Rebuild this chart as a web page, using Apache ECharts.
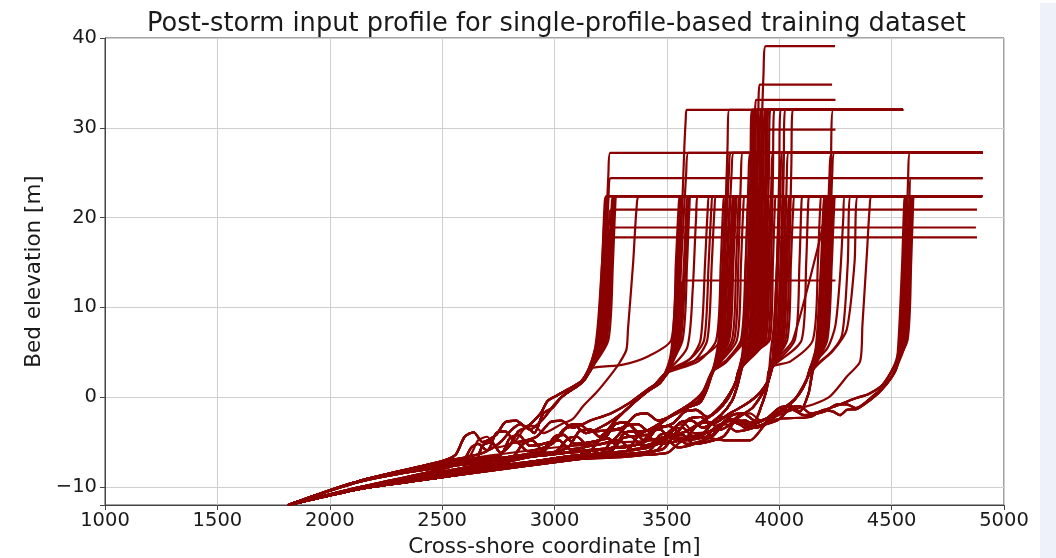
<!DOCTYPE html>
<html>
<head>
<meta charset="utf-8">
<script src="https://cdn.jsdelivr.net/npm/echarts@6/dist/echarts.min.js"></script>
<style>
  html, body { margin: 0; padding: 0; background: #fff; }
  #chart { width: 1056px; height: 558px; }
</style>
</head>
<body>
<div id="chart"></div>
<script>
// offshore parts (bars) of the profiles
var seaA1 = [[1815,-12],[2135,-10.2],[2500,-8.6],[2640,-7.6],[2680,-5.4],[2720,-5.0],[2760,-6.2],[2800,-5.4],[2840,-3.8],[2880,-3.4],[2910,-4.0],[2950,-1.8],[2990,-1.2],[3030,0.0],[3080,0.9],[3130,1.8],[3160,3.2]];
var seaA2 = [[1815,-12],[2135,-9.3],[2500,-7.1],[2560,-6.4],[2600,-4.4],[2640,-3.9],[2680,-5.0],[2740,-4.2],[2780,-2.8],[2830,-2.6],[2870,-3.3],[2935,-1.9],[2970,-0.4],[3011,0.2],[3069,1.0],[3120,1.8],[3150,3.0]];
var seaA3 = [[1815,-12],[2135,-10.0],[2500,-8.0],[2590,-7.2],[2630,-5.6],[2660,-5.2],[2700,-5.9],[2760,-5.0],[2810,-3.6],[2850,-3.0],[2890,-3.6],[2950,-2.4],[3000,-0.8],[3050,0.4],[3110,1.4],[3170,3.4]];
var seaZ  = [[1815,-12],[2135,-9.3],[2500,-7.4],[2620,-6.6],[2660,-4.8],[2700,-4.4],[2740,-5.6],[2820,-5.0],[2870,-3.4],[2910,-3.2],[2950,-4.0],[3030,-3.0],[3082,-2.4],[3127,-1.0],[3189,0.6],[3260,2.8],[3291,3.9],[3320,5.3]];
var seaB  = [[1815,-12],[2135,-10.2],[2500,-8.7],[2800,-7.0],[2860,-5.2],[2900,-4.8],[2960,-6.2],[3060,-5.6],[3110,-3.8],[3160,-3.6],[3200,-4.4],[3278,-2.4],[3336,-1.0],[3411,0.6],[3470,1.6],[3500,2.8]];
var seaB2 = [[1815,-12],[2135,-9.3],[2500,-7.2],[2700,-6.0],[2740,-4.0],[2780,-3.8],[2830,-5.0],[2920,-4.4],[2980,-2.8],[3030,-2.6],[3080,-3.4],[3160,-2.6],[3250,-1.8],[3336,-0.6],[3411,0.8],[3480,2.0],[3510,3.0]];
var seaB3 = [[1815,-12],[2135,-10.1],[2500,-8.3],[2740,-7.0],[2790,-5.4],[2830,-5.0],[2880,-6.0],[2990,-5.2],[3040,-3.6],[3090,-3.2],[3140,-4.0],[3230,-3.0],[3300,-1.8],[3370,-0.2],[3440,1.2],[3490,2.6]];
var seaC  = [[1815,-12],[2135,-10.2],[2500,-8.8],[2900,-6.6],[3000,-6.2],[3060,-4.6],[3100,-4.4],[3150,-5.4],[3260,-4.8],[3320,-3.2],[3370,-3.0],[3420,-3.8],[3500,-2.4],[3572,-1.3],[3647,-0.6],[3680,1.0],[3705,3.0]];
var seaC2 = [[1815,-12],[2135,-9.3],[2500,-7.4],[2760,-6.4],[2800,-4.6],[2840,-4.2],[2890,-5.4],[3000,-4.8],[3060,-3.2],[3110,-3.0],[3160,-3.8],[3300,-3.4],[3360,-2.0],[3410,-1.8],[3460,-2.6],[3560,-1.6],[3640,-0.4],[3680,1.4],[3712,3.2]];
var seaC3 = [[1815,-12],[2135,-10.2],[2500,-8.6],[2850,-6.8],[2930,-6.4],[2980,-5.0],[3020,-4.8],[3070,-5.8],[3180,-5.2],[3240,-3.8],[3290,-3.6],[3340,-4.4],[3450,-3.2],[3520,-2.0],[3600,-0.8],[3660,0.6],[3700,2.8]];
var seaD  = [[1815,-12],[2135,-10.2],[2500,-8.9],[3000,-6.8],[3150,-6.2],[3200,-4.8],[3240,-4.6],[3290,-5.6],[3400,-5.0],[3460,-3.4],[3510,-3.2],[3560,-4.0],[3650,-2.8],[3720,-1.6],[3770,-0.2],[3805,1.6],[3830,3.2]];
var seaD2 = [[1815,-12],[2135,-9.3],[2500,-7.6],[2950,-6.0],[3000,-4.4],[3040,-4.2],[3090,-5.2],[3220,-4.6],[3270,-3.0],[3320,-2.8],[3370,-3.8],[3520,-3.0],[3580,-1.6],[3630,-1.4],[3680,-2.2],[3740,-1.0],[3780,0.4],[3805,1.6],[3820,3.0]];
var seaD3 = [[1815,-12],[2135,-10.2],[2500,-8.7],[3050,-6.6],[3250,-6.0],[3300,-4.6],[3340,-4.4],[3390,-5.4],[3500,-4.4],[3560,-2.8],[3610,-2.6],[3660,-3.4],[3740,-2.0],[3790,-0.4],[3815,1.4],[3835,3.4]];
var seaE  = [[1815,-12],[2135,-10.2],[2500,-8.9],[3100,-6.6],[3320,-6.0],[3370,-4.4],[3410,-4.2],[3460,-5.2],[3580,-4.6],[3640,-3.0],[3690,-2.8],[3740,-3.6],[3820,-2.2],[3880,-1.2],[3920,0.2],[3950,1.6],[3965,3.2]];
var seaE2 = [[1815,-12],[2135,-10.2],[2500,-8.9],[3000,-7.0],[3200,-6.6],[3250,-5.0],[3290,-4.8],[3340,-5.8],[3460,-5.2],[3520,-3.6],[3570,-3.4],[3620,-4.4],[3720,-3.4],[3790,-2.0],[3840,-1.8],[3890,-2.6],[3920,-1.0],[3945,1.0],[3955,3.0]];
var seaE3 = [[1815,-12],[2135,-9.4],[2500,-7.8],[3050,-6.2],[3260,-5.6],[3310,-4.0],[3350,-3.8],[3400,-4.8],[3540,-4.0],[3600,-2.4],[3650,-2.2],[3700,-3.0],[3780,-1.8],[3850,-0.8],[3910,0.4],[3950,1.8],[3970,3.4]];
var seaF  = [[1815,-12],[2135,-10.2],[2500,-8.9],[3200,-6.6],[3480,-5.8],[3530,-4.4],[3570,-4.2],[3620,-5.2],[3750,-4.4],[3800,-2.8],[3850,-2.6],[3900,-3.4],[3980,-2.0],[4040,-1.0],[4090,0.4],[4120,1.8],[4140,3.4]];
var seaF2 = [[1815,-12],[2135,-9.3],[2500,-7.6],[3100,-6.0],[3380,-5.2],[3430,-3.8],[3470,-3.6],[3520,-4.6],[3660,-4.0],[3720,-2.4],[3770,-2.2],[3820,-3.0],[3940,-2.4],[4000,-1.2],[4050,-1.0],[4090,-1.6],[4130,0.4],[4150,3.0]];
var seaF3 = [[1815,-12],[2135,-10.0],[2500,-8.4],[3150,-6.4],[3420,-5.6],[3470,-4.2],[3510,-4.0],[3560,-4.8],[3700,-4.2],[3760,-2.6],[3810,-2.4],[3860,-3.2],[3960,-2.2],[4020,-1.2],[4070,-0.2],[4110,1.4],[4145,3.2]];
var seaG  = [[1815,-12],[2135,-9.3],[2500,-7.3],[3000,-5.6],[3300,-5.0],[3500,-4.6],[3540,-3.2],[3580,-3.0],[3620,-4.0],[3760,-3.4],[3820,-2.0],[3870,-1.8],[3920,-2.6],[4060,-1.4],[4150,-0.8],[4226,0.1],[4301,2.3],[4360,4.0]];
var seaH  = [[1815,-12],[2135,-10.2],[2500,-8.9],[3000,-7.0],[3300,-6.5],[3500,-6.2],[3560,-5.0],[3647,-4.3],[3700,-4.6],[3767,-4.8],[3870,-4.8],[3940,-3.0],[4003,-2.4],[4137,-2.2],[4200,-1.4],[4240,-1.6],[4270,-2.0],[4301,-1.4],[4346,-1.3],[4400,-0.4],[4448,0.6],[4500,2.2],[4524,3.4]];
var seaH2 = [[1815,-12],[2135,-10.2],[2500,-8.9],[3100,-6.8],[3450,-6.0],[3500,-4.6],[3540,-4.4],[3590,-5.2],[3700,-4.4],[3760,-2.8],[3800,-2.6],[3850,-3.4],[3990,-2.6],[4050,-1.2],[4090,-1.0],[4140,-1.8],[4250,-1.0],[4330,-0.2],[4400,0.4],[4460,1.4],[4510,3.4]];
var seaH3 = [[1815,-12],[2135,-10.2],[2500,-8.9],[3050,-7.0],[3400,-6.4],[3460,-5.0],[3500,-4.8],[3550,-5.6],[3660,-4.8],[3720,-3.2],[3760,-3.0],[3810,-3.8],[3950,-2.8],[4010,-1.6],[4060,-1.4],[4110,-2.0],[4200,-1.6],[4260,-0.8],[4300,-0.8],[4340,-1.2],[4420,0.2],[4480,1.6],[4518,3.2]];

// dune face + crest of each profile: [offshore part, face/crest points]
var bundle1 = [
  [seaA2, [[3190,6.4],[3212,15],[3222,21],[3230,22.4],[4250,22.4]]],
  [seaA1, [[3194,6.4],[3216,15],[3226,21],[3234,22.4],[4550,22.4]]],
  [seaA3, [[3198,6.4],[3220,15],[3230,21],[3238,22.4],[4900,22.4]]],
  [seaA2, [[3202,6.4],[3224,16],[3240,25],[3248,27.2],[4905,27.2]]],
  [seaA1, [[3206,6.4],[3228,16],[3240,22],[3250,24.4],[4905,24.4]]],
  [seaA3, [[3210,6.4],[3232,15],[3244,20],[3252,20.9],[4880,20.9]]],
  [seaA2, [[3214,6.4],[3236,15],[3246,18.2],[3254,18.9],[4875,18.9]]],
  [seaA1, [[3218,6.4],[3240,15],[3250,17.2],[3258,17.8],[4880,17.8]]],
  [seaA3, [[3222,6.4],[3244,15],[3254,21],[3262,22.4],[4250,22.4]]],
  [seaA2, [[3226,6.4],[3248,15],[3258,21],[3266,22.4],[4550,22.4]]],
  [seaA1, [[3232,6.4],[3254,15],[3264,21],[3272,22.4],[4250,22.4]]],
  [seaA3, [[3240,6.4],[3260,15],[3270,21],[3278,22.4],[4900,22.4]]],
  [seaA1, [[3186,5.6],[3200,9],[3218,16],[3228,21],[3236,22.4],[4550,22.4]]],
  [seaA2, [[3180,5.4],[3196,9],[3214,16],[3226,21],[3244,22.4],[4250,22.4]]],
  [seaZ,  [[3327,7.6],[3350,15],[3365,21],[3378,22.4],[4250,22.4]]]
];
var bundle2 = [
  [seaB,  [[3525,6.4],[3545,15],[3556,21],[3565,22.4],[4250,22.4]]],
  [seaB2, [[3530,6.4],[3550,15],[3561,21],[3570,22.4],[4550,22.4]]],
  [seaB3, [[3535,6.4],[3555,15],[3566,21],[3575,22.4],[4900,22.4]]],
  [seaB,  [[3540,6.4],[3560,16],[3578,28],[3584,31],[3588,32],[4551,32]]],
  [seaB2, [[3545,6.4],[3566,16],[3586,25],[3596,27.2],[4905,27.2]]],
  [seaB3, [[3550,6.4],[3562,10],[3572,13],[4250,13]]],
  [seaB,  [[3555,6.4],[3576,15],[3587,21],[3596,22.4],[4250,22.4]]],
  [seaB2, [[3562,6.4],[3583,15],[3594,21],[3603,22.4],[4550,22.4]]],
  [seaB3, [[3570,6.4],[3590,15],[3600,21],[3608,22.4],[4900,22.4]]],
  [seaB,  [[3590,5.5],[3615,12],[3630,20],[3640,22.4],[4900,22.4]]],
  [seaB3, [[3600,4.2],[3650,6.4],[3670,15],[3682,21],[3690,22.4],[4550,22.4]]],
  [seaB2, [[3610,4.4],[3666,6.4],[3686,15],[3698,21],[3706,22.4],[4250,22.4]]],
  [seaB,  [[3620,4.0],[3680,6.4],[3700,15],[3712,21],[3720,22.4],[4900,22.4]]],
  [seaA1, [[3300,3.6],[3420,4.6],[3520,6.4],[3540,15],[3552,21],[3560,22.4],[4550,22.4]]]
];
var bundle3 = [
  [seaC,  [[3730,6.4],[3748,15],[3758,21],[3766,22.4],[4550,22.4]]],
  [seaC2, [[3736,6.4],[3755,16],[3770,28],[3778,32],[4551,32]]],
  [seaC3, [[3742,6.4],[3760,16],[3776,25],[3786,27.2],[4905,27.2]]],
  [seaC,  [[3748,6.4],[3766,15],[3778,21],[3786,22.4],[4250,22.4]]],
  [seaC2, [[3754,6.4],[3772,16],[3788,25],[3798,27.2],[4905,27.2]]],
  [seaC3, [[3760,6.4],[3778,15],[3790,21],[3798,22.4],[4900,22.4]]],
  [seaC,  [[3766,6.4],[3784,15],[3796,21],[3804,22.4],[4550,22.4]]],
  [seaC2, [[3772,6.4],[3790,15],[3802,21],[3810,22.4],[4250,22.4]]],
  [seaC3, [[3778,6.4],[3796,15],[3808,21],[3816,22.4],[4900,22.4]]],
  [seaC,  [[3790,6.4],[3808,15],[3818,21],[3826,22.4],[4550,22.4]]],
  [seaC2, [[3800,6.4],[3818,15],[3830,25],[3838,27.2],[4905,27.2]]],
  [seaC3, [[3812,6.4],[3830,15],[3840,21],[3848,22.4],[4250,22.4]]],
  [seaB3, [[3640,4.0],[3720,6.4],[3740,15],[3750,21],[3758,22.4],[4900,22.4]]],
  [seaB,  [[3650,4.4],[3738,6.4],[3756,15],[3768,25],[3776,27.2],[4905,27.2]]],
  [seaC,  [[3760,4.0],[3830,6.4],[3850,15],[3860,21],[3868,22.4],[4900,22.4]]],
  [seaC2, [[3770,4.2],[3845,6.4],[3862,15],[3874,25],[3880,32],[4250,32]]],
  [seaC3, [[3760,3.8],[3836,6.4],[3852,15],[3864,25],[3872,27.2],[4905,27.2]]]
];
var bundle4 = [
  [seaD,  [[3840,6.4],[3862,15],[3872,25],[3878,32],[4250,32]]],
  [seaD2, [[3848,6.4],[3868,15],[3878,21],[3886,22.4],[4550,22.4]]],
  [seaD3, [[3856,6.4],[3874,15],[3884,25],[3890,32],[4551,32]]],
  [seaD,  [[3864,6.4],[3880,15],[3890,26],[3896,33.1],[4250,33.1]]],
  [seaD2, [[3872,6.4],[3888,15],[3898,25],[3904,27.2],[4905,27.2]]],
  [seaD3, [[3880,6.4],[3896,15],[3906,28],[3912,34.8],[4235,34.8]]],
  [seaD,  [[3886,6.4],[3902,15],[3912,25],[3918,32],[4551,32]]],
  [seaD2, [[3892,6.4],[3908,15],[3920,28],[3930,36],[3940,39.1],[4248,39.1]]],
  [seaD3, [[3898,6.4],[3914,15],[3924,25],[3930,29.8],[4250,29.8]]],
  [seaD,  [[3904,6.4],[3920,15],[3930,25],[3936,32],[4250,32]]],
  [seaD2, [[3910,6.4],[3926,15],[3936,21],[3944,22.4],[4900,22.4]]],
  [seaD3, [[3916,6.4],[3932,15],[3942,25],[3948,32],[4551,32]]],
  [seaD,  [[3922,6.4],[3938,15],[3948,21],[3956,22.4],[4550,22.4]]],
  [seaD2, [[3928,6.4],[3944,15],[3954,25],[3960,32],[4250,32]]],
  [seaD3, [[3934,6.4],[3950,15],[3960,21],[3968,22.4],[4250,22.4]]],
  [seaD,  [[3940,6.4],[3956,15],[3966,25],[3972,27.2],[4905,27.2]]],
  [seaD2, [[3852,6.4],[3870,15],[3880,25],[3885,32],[4250,32]]],
  [seaD3, [[3868,6.4],[3884,15],[3894,25],[3900,32],[4551,32]]],
  [seaD,  [[3876,6.4],[3892,15],[3902,25],[3908,32],[4250,32]]],
  [seaD2, [[3895,6.4],[3911,15],[3921,25],[3926,32],[4551,32]]],
  [seaD3, [[3912,6.4],[3928,15],[3938,25],[3942,32],[4250,32]]],
  [seaD,  [[3920,6.4],[3936,15],[3946,25],[3952,32],[4551,32]]],
  [seaD,  [[3870,4.8],[3950,6.4],[3964,15],[3972,25],[3978,32],[4551,32]]],
  [seaD2, [[3860,4.6],[3958,6.4],[3972,15],[3980,21],[3986,22.4],[4250,22.4]]]
];
var bundle5 = [
  [seaE,  [[3990,6.4],[4006,15],[4016,24],[4024,27.2],[4905,27.2]]],
  [seaE2, [[3996,6.4],[4012,15],[4020,26],[4026,32],[4551,32]]],
  [seaE3, [[4002,6.4],[4018,15],[4028,21],[4036,22.4],[4250,22.4]]],
  [seaE,  [[4008,6.4],[4024,15],[4034,25],[4042,27.2],[4905,27.2]]],
  [seaE2, [[4014,6.4],[4030,15],[4040,21],[4048,22.4],[4550,22.4]]],
  [seaE3, [[4020,6.4],[4036,15],[4046,21],[4054,22.4],[4900,22.4]]],
  [seaE,  [[4028,6.4],[4044,15],[4054,26],[4060,32],[4551,32]]],
  [seaE2, [[4036,6.4],[4052,15],[4062,21],[4070,22.4],[4900,22.4]]],
  [seaE3, [[4000,4.5],[4061,6.4],[4181,17.6],[4200,20],[4215,22.4],[4550,22.4]]],
  [seaE,  [[4070,6.4],[4090,15],[4098,21],[4104,22.4],[4550,22.4]]],
  [seaE2, [[4100,6.4],[4120,15],[4128,21],[4134,22.4],[4900,22.4]]],
  [seaE3, [[3985,5.2],[3996,9],[4010,16],[4020,21],[4030,22.4],[4250,22.4]]],
  [seaE2, [[3962,5.0],[3976,8],[3990,15],[4000,25],[4006,32],[4250,32]]],
  [seaE,  [[3975,6.4],[3990,15],[4000,21],[4008,22.4],[4550,22.4]]],
  [seaE3, [[3982,6.4],[3996,15],[4006,24],[4012,27.2],[4905,27.2]]]
];
var bundle6 = [
  [seaF,  [[4172,6.4],[4192,15],[4202,21],[4210,22.4],[4550,22.4]]],
  [seaF2, [[4178,6.4],[4198,15],[4208,21],[4216,22.4],[4900,22.4]]],
  [seaF3, [[4184,6.4],[4204,15],[4214,21],[4222,22.4],[4550,22.4]]],
  [seaF,  [[4190,6.4],[4210,15],[4224,25],[4234,27.2],[4905,27.2]]],
  [seaF2, [[4196,6.4],[4216,15],[4230,26],[4240,32],[4551,32]]],
  [seaF3, [[4202,6.4],[4222,15],[4232,21],[4240,22.4],[4900,22.4]]],
  [seaF,  [[4208,6.4],[4228,15],[4238,21],[4246,22.4],[4550,22.4]]],
  [seaF2, [[4214,6.4],[4234,15],[4244,21],[4252,22.4],[4900,22.4]]],
  [seaF3, [[4166,6.4],[4186,15],[4196,21],[4204,22.4],[4250,22.4]]],
  [seaE3, [[4050,4.0],[4150,6.4],[4172,15],[4182,21],[4190,22.4],[4900,22.4]]],
  [seaF,  [[4200,6.4],[4222,15],[4236,25],[4246,27.2],[4905,27.2]]]
];
var bundle7 = [
  [seaG,  [[4370,8],[4390,16],[4402,21],[4412,22.4],[4900,22.4]]],
  [seaF,  [[4215,5.5],[4250,8],[4272,14],[4285,20],[4292,22.4],[4550,22.4]]],
  [seaF3, [[4230,5.0],[4280,7],[4305,15],[4318,22.4],[4900,22.4]]],
  [seaF2, [[4240,5.2],[4300,7.5],[4335,15],[4350,22.4],[4550,22.4]]]
];
var bundle8 = [
  [seaH,  [[4536,6.4],[4552,15],[4560,21],[4566,22.4],[4900,22.4]]],
  [seaH2, [[4541,6.4],[4557,15],[4565,21],[4571,22.4],[4905,22.4]]],
  [seaH3, [[4546,6.4],[4562,15],[4574,25],[4582,27.2],[4905,27.2]]],
  [seaH,  [[4551,6.4],[4567,15],[4579,22],[4586,24.4],[4905,24.4]]],
  [seaH2, [[4556,6.4],[4572,15],[4580,21],[4586,22.4],[4900,22.4]]],
  [seaH3, [[4561,6.4],[4577,15],[4585,21],[4591,22.4],[4905,22.4]]],
  [seaH,  [[4566,6.4],[4582,15],[4590,21],[4596,22.4],[4900,22.4]]],
  [seaH2, [[4571,6.4],[4587,15],[4595,21],[4600,22.4],[4900,22.4]]],
  [seaH3, [[4531,6.4],[4547,15],[4555,21],[4561,22.4],[4900,22.4]]]
];

var xRange = [1000, 5000];
var yRange = [-12, 40];

var chart = echarts.init(document.getElementById('chart'));

var series = [];
[bundle1, bundle2, bundle3, bundle4, bundle5, bundle6, bundle7, bundle8].forEach(function(b){
  b.forEach(function(p){
    series.push({
      type: 'line',
      data: p[0].concat(p[1]),
      showSymbol: false,
      silent: true,
      smooth: 0.25,
      lineStyle: { color: '#8b0000', width: 2.2 }
    });
  });
});

var txt = '#1a1a1a';
var option = {
  animation: false,
  backgroundColor: '#ffffff',
  title: {
    text: 'Post-storm input profile for single-profile-based training dataset',
    left: 142,
    top: 6,
    textStyle: { fontFamily: 'DejaVu Sans', fontSize: 25.7, fontWeight: 'normal', color: txt }
  },
  grid: { left: 105, right: 52, top: 38, bottom: 53, containLabel: false, outerBoundsMode: 'none',
    show: true, borderColor: '#444', borderWidth: 1, backgroundColor: 'transparent' },
  xAxis: {
    type: 'value', min: xRange[0], max: xRange[1], interval: 500,
    name: 'Cross-shore coordinate [m]', nameLocation: 'middle', nameGap: 31,
    nameTextStyle: { fontFamily: 'DejaVu Sans', fontSize: 21.5, color: txt },
    axisLine: { show: true, onZero: false, lineStyle: { color: '#444', width: 1 } },
    axisTick: { show: true, length: 5, lineStyle: { color: '#444' } },
    axisLabel: { fontFamily: 'DejaVu Sans', fontSize: 19.5, color: txt, margin: 6,
      formatter: function(v){ return String(v); } },
    splitLine: { show: true, lineStyle: { color: '#cfcfcf', width: 1 } }
  },
  yAxis: {
    type: 'value', min: yRange[0], max: yRange[1], splitNumber: 5,
    name: 'Bed elevation [m]', nameLocation: 'middle', nameGap: 53,
    nameTextStyle: { fontFamily: 'DejaVu Sans', fontSize: 21.5, color: txt },
    axisLine: { show: true, onZero: false, lineStyle: { color: '#444', width: 1 } },
    axisTick: { show: true, length: 5, lineStyle: { color: '#444' } },
    axisLabel: {
      fontFamily: 'DejaVu Sans', fontSize: 19.5, color: txt, margin: 8,
      formatter: function(v){ return v % 10 === 0 ? String(v).replace('-', '\u2212') : ''; }
    },
    splitLine: { show: true, lineStyle: { color: '#cfcfcf', width: 1 } }
  },
  graphic: [{
    type: 'rect', left: 1040, top: 3, z: -1,
    shape: { width: 16, height: 555 },
    style: { fill: '#eef0fa' }
  }],
  series: series
};
chart.setOption(option);
</script>
</body>
</html>
